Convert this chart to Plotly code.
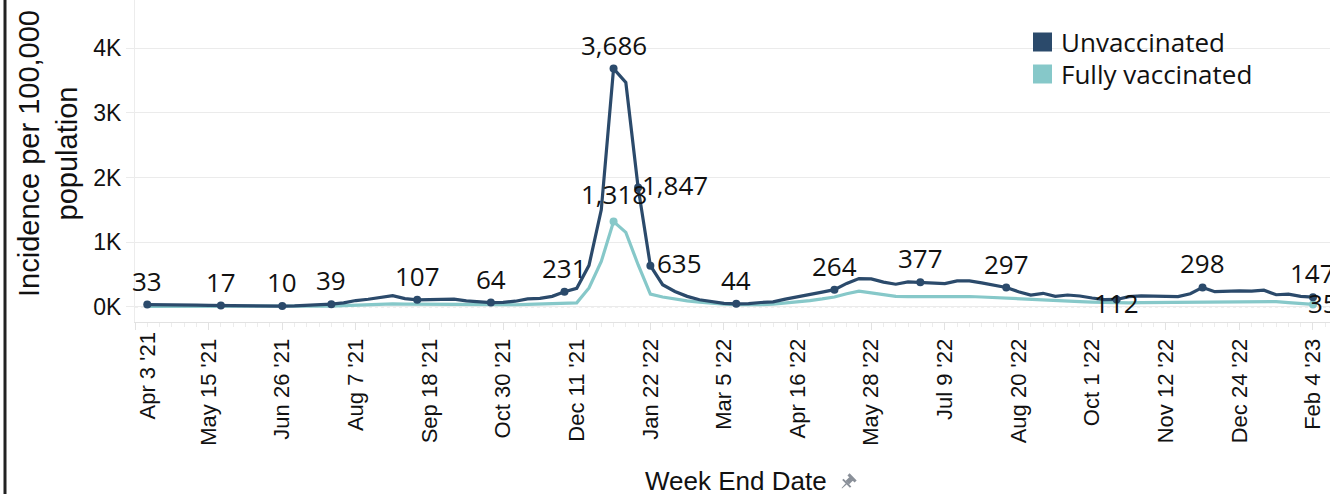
import numpy as np
import pandas as pd
import plotly.graph_objects as go

# ---------------- data ----------------
week_end = pd.date_range("2021-04-10", "2023-02-04", freq="7D")

unvaccinated = [
    33, 33, 31, 28, 25, 20, 17, 15, 13, 12,
    11, 10, 13, 18, 27, 39, 60, 95, 115, 140,
    170, 125, 107, 110, 115, 118, 90, 80, 64, 68,
    85, 120, 130, 160, 231, 285, 640, 1500, 3686, 3470,
    1847, 635, 340, 235, 160, 108, 78, 52, 44, 48,
    65, 75, 118, 150, 185, 225, 264, 360, 435, 430,
    380, 348, 385, 377, 360, 358, 400, 400, 368, 328,
    297, 232, 181, 207, 160, 181, 166, 135, 110, 112,
    155, 166, 166, 155, 155, 200, 298, 232, 240, 245,
    240, 255, 185, 195, 160, 147,
]

fully_vaccinated = [
    5, 5, 5, 5, 4, 4, 3, 3, 3, 3,
    3, 3, 4, 5, 7, 10, 18, 26, 32, 38,
    45, 40, 38, 36, 35, 36, 30, 28, 25, 26,
    30, 36, 40, 45, 52, 60, 290, 700, 1318, 1150,
    650, 195, 150, 115, 90, 70, 52, 40, 30, 28,
    32, 40, 55, 75, 95, 120, 150, 200, 240, 215,
    185, 160, 155, 158, 158, 158, 162, 158, 150, 140,
    130, 120, 110, 100, 92, 85, 78, 72, 65, 60,
    60, 62, 64, 66, 68, 72, 78, 80, 82, 84,
    86, 86, 78, 62, 48, 35,
]

# indices of points that carry a value label
unvax_labeled = [0, 6, 11, 15, 22, 28, 34, 38, 40, 41, 48, 56, 63, 70, 79, 86, 95]
vax_labeled = [38, 95]

tick_dates = pd.date_range("2021-04-03", "2023-02-04", freq="42D")
tick_labels = ["Apr 3 '21", "May 15 '21", "Jun 26 '21", "Aug 7 '21", "Sep 18 '21",
               "Oct 30 '21", "Dec 11 '21", "Jan 22 '22", "Mar 5 '22", "Apr 16 '22",
               "May 28 '22", "Jul 9 '22", "Aug 20 '22", "Oct 1 '22", "Nov 12 '22",
               "Dec 24 '22", "Feb 4 '23"]

y_ticks = [0, 1000, 2000, 3000, 4000]
y_tick_labels = ["0K", "1K", "2K", "3K", "4K"]

series_names = ["Unvaccinated", "Fully vaccinated"]
series_colors = ["#2b4a6b", "#86c8c9"]

# ---------------- layout helpers ----------------
W, H = 1330, 494
L, R, T, B = 135, 0, 0, 172
PW, PH = W - L - R, H - T - B


def px2x(px):
    return (px - L) / PW


def py2y(py):
    return (H - B - py) / PH


LABEL_FONT = dict(family="Open Sans", size=26, color="#111")
TICK_FONT = dict(family="Liberation Sans", size=22, color="#111")

fig = go.Figure()

fig.add_trace(go.Scatter(x=week_end, y=fully_vaccinated, mode="lines",
                         line=dict(color=series_colors[1], width=3.2),
                         name=series_names[1], showlegend=False, hoverinfo="skip"))
fig.add_trace(go.Scatter(x=week_end, y=unvaccinated, mode="lines",
                         line=dict(color=series_colors[0], width=3.2),
                         name=series_names[0], showlegend=False, hoverinfo="skip"))

fig.add_trace(go.Scatter(x=[week_end[i] for i in vax_labeled],
                         y=[fully_vaccinated[i] for i in vax_labeled],
                         mode="markers", marker=dict(color=series_colors[1], size=8),
                         showlegend=False, hoverinfo="skip"))
fig.add_trace(go.Scatter(x=[week_end[i] for i in unvax_labeled],
                         y=[unvaccinated[i] for i in unvax_labeled],
                         mode="markers", marker=dict(color=series_colors[0], size=8),
                         showlegend=False, hoverinfo="skip"))

annotations = []

# label placement (style only)
special = {40: ("left", 2, 2), 41: ("left", 5, 3), 79: ("center", 0, -4)}
for i in unvax_labeled:
    v = unvaccinated[i]
    if i in special:
        xa, xs, ys = special[i]
    else:
        xa, xs, ys = "center", 0, 24
    annotations.append(dict(x=week_end[i], y=v, xref="x", yref="y", text=f"{v:,}",
                            showarrow=False, xanchor=xa, yanchor="middle",
                            xshift=xs, yshift=ys, font=LABEL_FONT))
for i in vax_labeled:
    v = fully_vaccinated[i]
    if i == 95:
        xa, xs, ys = "left", -7, 1
    else:
        xa, xs, ys = "center", 0, 28
    annotations.append(dict(x=week_end[i], y=v, xref="x", yref="y", text=f"{v:,}",
                            showarrow=False, xanchor=xa, yanchor="middle",
                            xshift=xs, yshift=ys, font=LABEL_FONT))

# first tick label is nudged inside the plot (as in the original)
shown_ticks = [""] + tick_labels[1:]
annotations.append(dict(x=tick_dates[0], y=0, xref="x", yref="paper",
                        text=tick_labels[0], textangle=-90, showarrow=False,
                        xanchor="center", yanchor="top", xshift=12, yshift=-9,
                        font=TICK_FONT))

# axis titles
annotations.append(dict(x=px2x(48), y=py2y(154), xref="paper", yref="paper",
                        text="Incidence per 100,000<br>population", textangle=-90,
                        showarrow=False, xanchor="center", yanchor="middle",
                        font=dict(family="Liberation Sans", size=29, color="#111")))
annotations.append(dict(x=px2x(736), y=py2y(481), xref="paper", yref="paper",
                        text="Week End Date", showarrow=False,
                        xanchor="center", yanchor="middle",
                        font=dict(family="Liberation Sans", size=26, color="#111")))

shapes = []
# legend (white box, swatches)
shapes.append(dict(type="rect", xref="paper", yref="paper", layer="between",
                   x0=px2x(1027), x1=px2x(1266), y0=py2y(95), y1=py2y(22),
                   fillcolor="white", line=dict(width=0)))
legend_rows = [42, 74]
for name, color, cy in zip(series_names, series_colors, legend_rows):
    shapes.append(dict(type="rect", xref="paper", yref="paper",
                       x0=px2x(1033), x1=px2x(1052), y0=py2y(cy + 9.5), y1=py2y(cy - 9.5),
                       fillcolor=color, line=dict(width=0)))
    annotations.append(dict(x=px2x(1059), y=py2y(cy), xref="paper", yref="paper",
                            text=name, showarrow=False, xanchor="left", yanchor="middle",
                            font=dict(family="Open Sans", size=26, color="#111")))


# small grey pin icon after the x-axis title
def pin_path(cx, cy):
    d = np.array([-1.0, 1.0]) / np.sqrt(2)   # along the pin, towards the needle
    p = np.array([1.0, 1.0]) / np.sqrt(2)    # across the pin
    c = np.array([cx, cy])
    parts = [
        [(-3, -5), (-3, 5), (0, 5), (0, -5)],        # head
        [(0, -2.5), (0, 2.5), (5, 2.5), (5, -2.5)],  # body
        [(5, -5.5), (5, 5.5), (7, 5.5), (7, -5.5)],  # plate
        [(7, -0.8), (7, 0.8), (13, 0.3), (13, -0.3)],  # needle
    ]
    out = []
    for poly in parts:
        pts = [c + a * d + b * p for a, b in poly]
        s = "M " + " L ".join(f"{px2x(q[0]):.5f},{py2y(q[1]):.5f}" for q in pts) + " Z"
        out.append(s)
    return " ".join(out)


shapes.append(dict(type="path", xref="paper", yref="paper", path=pin_path(851, 479),
                   fillcolor="#8a9099", line=dict(width=0)))

# dotted zero line
shapes.append(dict(type="line", xref="paper", yref="y", x0=0, x1=1, y0=0, y1=0,
                   layer="between", line=dict(color="#c4c4c4", width=1.2, dash="dot")))
# left border of the dashboard
shapes.append(dict(type="line", xref="paper", yref="paper",
                   x0=px2x(5), x1=px2x(5), y0=py2y(0), y1=py2y(H),
                   line=dict(color="#222", width=3)))

fig.update_layout(
    width=W, height=H,
    margin=dict(l=L, r=R, t=T, b=B, pad=0, autoexpand=False),
    paper_bgcolor="white", plot_bgcolor="white",
    showlegend=False,
    annotations=annotations,
    shapes=shapes,
    xaxis=dict(
        type="date", automargin=False,
        range=["2021-04-03", "2023-02-13 17:00"],
        tickvals=list(tick_dates), ticktext=shown_ticks,
        tickangle=-90,
        tickfont=TICK_FONT,
        showgrid=False, zeroline=False,
        showline=True, linecolor="#e2e2e2", linewidth=1,
        ticks="outside", ticklen=7, tickcolor="#e2e2e2",
        minor=dict(ticks="outside", ticklen=4, tickcolor="#ececec",
                   dtick=7 * 86400000, tick0="2021-04-03"),
    ),
    yaxis=dict(
        automargin=False,
        range=[-237, 4748],
        tickvals=y_ticks, ticktext=y_tick_labels,
        tickfont=dict(family="Liberation Sans", size=23, color="#111"),
        showgrid=True, gridcolor="#ebebeb", gridwidth=1,
        zeroline=False,
        showline=True, linecolor="#ececec",
        ticks="outside", ticklen=8, tickcolor="#ebebeb",
    ),
)

fig.write_html("out.html", config={"displayModeBar": False},
               post_script="document.body.style.margin='0';")
